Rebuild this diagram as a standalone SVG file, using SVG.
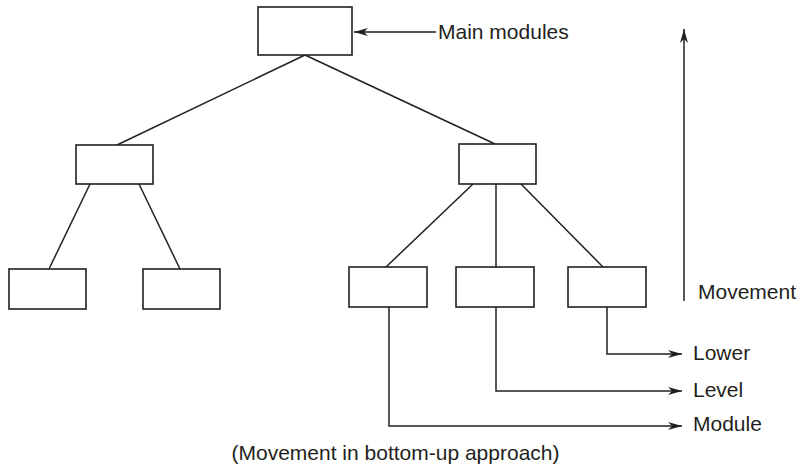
<svg xmlns="http://www.w3.org/2000/svg" width="800" height="470" viewBox="0 0 800 470">
<style>
.box{fill:#fff;stroke:#231f20;stroke-width:1.6}
.ln{fill:none;stroke:#231f20;stroke-width:1.5}
text{font-family:"Liberation Sans",Arial,sans-serif;font-size:21px;fill:#231f20}
</style>
<defs>
<marker id="ah" viewBox="0 0 14 8" refX="14" refY="4" markerWidth="14" markerHeight="8" markerUnits="userSpaceOnUse" orient="auto">
<path d="M0,0 L14,4 L0,8 L4,4 Z" fill="#231f20"/>
</marker>
</defs>
<rect width="800" height="470" fill="#fff"/>
<g id="connectors">
<line class="ln" x1="305" y1="55" x2="117" y2="145"/>
<line class="ln" x1="305" y1="55" x2="495" y2="144"/>
<line class="ln" x1="90" y1="184" x2="49" y2="269"/>
<line class="ln" x1="139" y1="184" x2="180" y2="269"/>
<line class="ln" x1="473" y1="184" x2="386" y2="267"/>
<line class="ln" x1="496" y1="184" x2="496" y2="267"/>
<line class="ln" x1="521" y1="184" x2="603" y2="267"/>
<line class="ln" x1="436" y1="32" x2="354" y2="32" marker-end="url(#ah)"/>
<line class="ln" x1="684" y1="301" x2="684" y2="29" marker-end="url(#ah)"/>
<polyline class="ln" points="607,307 607,354 682,354" marker-end="url(#ah)"/>
<polyline class="ln" points="496,307 496,391 682,391" marker-end="url(#ah)"/>
<polyline class="ln" points="389,307 389,426 682,426" marker-end="url(#ah)"/>
</g>
<g id="main"><rect class="box" x="258" y="7" width="94" height="48"/></g>
<g id="mid-left"><rect class="box" x="76" y="145" width="77" height="39"/></g>
<g id="mid-right"><rect class="box" x="459" y="144" width="77" height="40"/></g>
<g id="low-1"><rect class="box" x="9" y="269" width="77" height="40"/></g>
<g id="low-2"><rect class="box" x="143" y="269" width="77" height="40"/></g>
<g id="low-3"><rect class="box" x="349" y="267" width="78" height="40"/></g>
<g id="low-4"><rect class="box" x="456" y="267" width="78" height="40"/></g>
<g id="low-5"><rect class="box" x="568" y="267" width="78" height="40"/></g>
<g id="labels">
<text x="438" y="39">Main modules</text>
<text x="698" y="299">Movement</text>
<text x="693" y="360">Lower</text>
<text x="693" y="397">Level</text>
<text x="693" y="431">Module</text>
<text x="395.5" y="460" text-anchor="middle">(Movement in bottom-up approach)</text>
</g>
</svg>
